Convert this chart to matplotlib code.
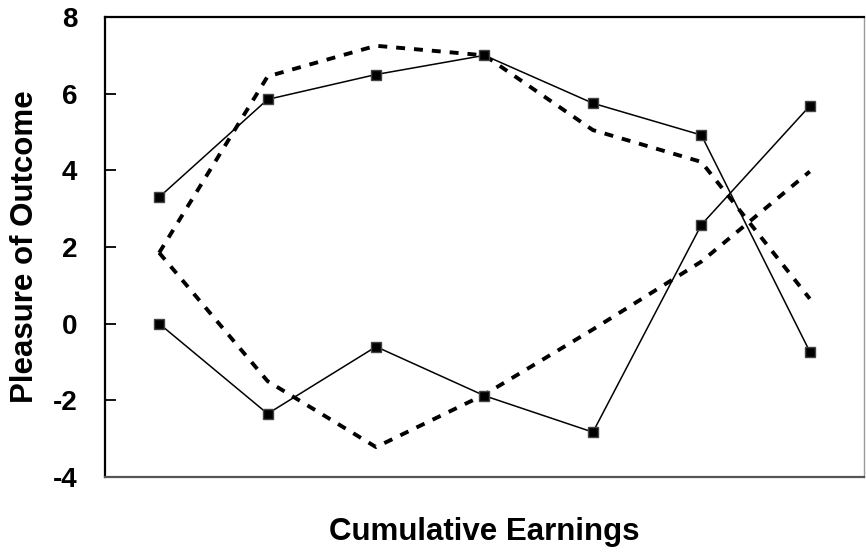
import matplotlib.pyplot as plt
import numpy as np

plt.rcParams["font.family"] = ["Liberation Sans", "DejaVu Sans"]
plt.rcParams["font.weight"] = "bold"
plt.rcParams["axes.unicode_minus"] = False

# earnings steps (no labels shown on the axis)
steps = np.arange(1, 8)

# observed pleasure ratings (solid lines with squares)
observed_a = [3.3, 5.85, 6.5, 7.0, 5.75, 4.92, -0.73]
observed_b = [0.0, -2.35, -0.6, -1.88, -2.83, 2.58, 5.68]

# model predictions (dashed lines)
predicted_a = [1.85, 6.45, 7.25, 7.0, 5.05, 4.22, 0.65]
predicted_b = [1.85, -1.5, -3.22, -1.85, -0.15, 1.62, 3.97]

fig = plt.figure(figsize=(8.66, 5.54), dpi=100)
ax = fig.add_axes([0.1212, 0.139, 0.8765, 0.8303])

for y in (predicted_a, predicted_b):
    ax.plot(steps, y, color="black", lw=2.8, linestyle=(0, (2.3, 2.3)))

for y in (observed_a, observed_b):
    ax.plot(steps, y, color="black", lw=1.1, marker="s", markersize=7.5,
            markerfacecolor="black", markeredgecolor="#444444", markeredgewidth=1)

ax.set_xlim(0.5, 7.5)
ax.set_ylim(-4, 8)
ax.set_yticks(np.arange(-4, 9, 2))
ax.set_xticks([])
ax.tick_params(axis="y", direction="in", length=8, width=1.3, labelsize=20, pad=20)
for lbl in ax.get_yticklabels():
    lbl.set_fontweight("bold")

for side in ("left", "top"):
    ax.spines[side].set_linewidth(1.6)
    ax.spines[side].set_color("black")
ax.spines["bottom"].set_linewidth(1.6)
ax.spines["bottom"].set_color("#555555")
ax.spines["right"].set_linewidth(1.0)
ax.spines["right"].set_color("#999999")

ax.set_ylabel("Pleasure of Outcome", fontsize=22.5, fontweight="bold")
ax.set_xlabel("Cumulative Earnings", fontsize=22.5, fontweight="bold")
ax.yaxis.set_label_coords(-0.0856, 0.5)
ax.xaxis.set_label_coords(0.5, -0.087)

fig.savefig("out.png", dpi=100)
